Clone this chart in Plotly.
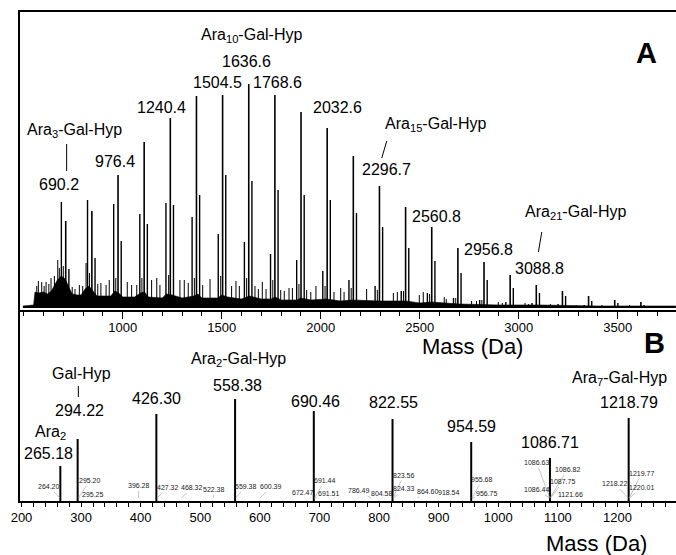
import plotly.graph_objects as go
from plotly.subplots import make_subplots

# ---------------- Panel A : full MALDI spectrum ----------------
# main series (M), sodium adducts (M+22) and potassium adducts (M+38)
A_M_MASS = [690.2, 822.3, 954.4, 1086.4, 1218.4, 1350.5, 1482.5, 1614.6, 1746.6, 1878.6,
            2010.6, 2142.7, 2274.7, 2406.7, 2538.8, 2670.8, 2802.8, 2934.8, 3066.8, 3198.9,
            3330.9, 3462.9, 3595.0]
A_M_INT = [106, 108, 104, 94, 105, 91, 74, 66, 54, 48,
           37, 28, 22, 17, 15, 10, 8, 6, 5, 4,
           3, 2, 2]
A_NA_MASS = [712.2, 844.3, 976.4, 1108.4, 1240.4, 1372.5, 1504.5, 1636.6, 1768.6, 1900.6,
             2032.6, 2164.7, 2296.7, 2428.7, 2560.8, 2692.8, 2824.8, 2956.8, 3088.8, 3220.9,
             3352.9, 3484.9, 3617.0]
A_NA_INT = [87, 97, 133, 166, 190, 212, 213, 224, 213, 196,
            180, 152, 122, 101, 81, 60, 46, 33, 23, 17,
            12, 8, 6]
A_K_MASS = [728.2, 860.3, 992.4, 1124.4, 1256.4, 1388.5, 1520.5, 1652.6, 1784.6, 1916.6,
            2048.6, 2180.7, 2312.7, 2444.7, 2576.8, 2708.8, 2840.8, 2972.8, 3104.8, 3236.9,
            3368.9, 3500.9, 3633.0]
A_K_INT = [39, 50, 67, 84, 103, 113, 133, 127, 118, 113,
           108, 95, 81, 60, 47, 35, 28, 20, 15, 12,
           7, 5, 3]
A_MINOR_MASS = [566, 574, 591, 603, 613, 627, 638, 655, 672, 680, 700, 745, 759, 781, 798,
                815, 832, 874, 890, 916, 932, 965, 1023, 1045, 1071, 1097, 1146, 1172, 1188,
                1232, 1289, 1311, 1331, 1362, 1404, 1441, 1495, 1550, 1572, 1589, 1626,
                1668, 1685, 1705, 1724, 1758, 1798, 1816, 1840, 1857, 1890, 1929, 1950,
                1976, 2022, 2067, 2101, 2118, 2154, 2232, 2286, 2367, 2387, 2418, 2498,
                2518, 2550, 2624, 2634, 2682, 2762, 2787, 2814, 2897, 2917, 3032, 3050,
                3160, 3290, 3420, 3560, 3700]
A_MINOR_INT = [22, 27, 26, 22, 26, 24, 30, 32, 48, 40, 42, 21, 19, 23, 22,
               45, 35, 24, 25, 23, 28, 30, 26, 23, 23, 30, 28, 30, 23,
               33, 28, 28, 25, 30, 23, 29, 32, 22, 27, 22, 30,
               22, 19, 26, 19, 28, 18, 17, 20, 20, 24, 18, 16,
               22, 22, 16, 20, 16, 20, 19, 18, 15, 16, 17, 13,
               16, 14, 11, 9, 10, 7, 7, 8, 6, 5, 5, 4,
               4, 3, 3, 3, 2]
# envelope of the dense baseline noise
A_BAND_MASS = [496, 550, 557, 575, 600, 620, 640, 655, 670, 690, 710, 730, 745, 770, 790,
               810, 830, 850, 870, 900, 940, 960, 980, 1000, 1060, 1090, 1110, 1130, 1200,
               1220, 1250, 1300, 1360, 1380, 1400, 1480, 1500, 1530, 1600, 1640, 1700, 1750,
               1770, 1800, 1880, 1900, 1950, 2030, 2100, 2160, 2300, 2430, 2500, 2560, 2700,
               2900, 3100, 3400, 3794]
A_BAND_INT = [2, 3, 16, 15, 16, 14, 17, 22, 28, 32, 29, 20, 14, 13, 13,
              19, 22, 17, 12, 12, 12, 17, 15, 11, 11, 15, 16, 11, 10,
              14, 13, 10, 12, 14, 10, 10, 13, 11, 9, 12, 9, 9,
              11, 8, 8, 10, 8, 9, 7, 8, 7, 7, 5, 6, 4,
              3, 3, 2, 2]
A_TICKS = [1000, 1500, 2000, 2500, 3000, 3500]

A_LABEL_MASS = [690.2, 690.2, 976.4, 1240.4, 1504.5, 1636.6, 1636.6, 1768.6, 2032.6,
                2296.7, 2296.7, 2560.8, 2956.8, 3088.8, 3088.8]
A_LABEL_TEXT = ["690.2", "Ara<sub>3</sub>-Gal-Hyp", "976.4", "1240.4", "1504.5", "1636.6",
                "Ara<sub>10</sub>-Gal-Hyp", "1768.6", "2032.6", "2296.7",
                "Ara<sub>15</sub>-Gal-Hyp", "2560.8", "2956.8", "3088.8",
                "Ara<sub>21</sub>-Gal-Hyp"]

# ---------------- Panel B : low mass region ----------------
B_MASS = [265.18, 294.22, 426.30, 558.38, 690.46, 822.55, 954.59, 1086.71, 1218.79]
B_INT = [35, 62, 87, 102, 90, 82, 59, 43, 83]
B_LABEL_MASS = [265.18, 265.18, 294.22, 294.22, 426.30, 558.38, 558.38, 690.46, 822.55,
                954.59, 1086.71, 1218.79, 1218.79]
B_LABEL_TEXT = ["265.18", "Ara<sub>2</sub>", "294.22", "Gal-Hyp", "426.30", "558.38",
                "Ara<sub>2</sub>-Gal-Hyp", "690.46", "822.55", "954.59", "1086.71",
                "1218.79", "Ara<sub>7</sub>-Gal-Hyp"]
B_MINOR_MASS = [264.20, 295.20, 295.25, 396.28, 427.32, 468.32, 522.38, 559.38, 600.39,
                672.47, 691.44, 691.51, 786.49, 804.58, 823.56, 824.33, 864.60, 918.54,
                955.68, 956.75, 1086.63, 1086.82, 1087.75, 1086.44, 1121.66, 1218.22,
                1219.77, 1220.01]
B_MINOR_TEXT = ["%.2f" % m for m in B_MINOR_MASS]
B_TICKS = [200, 300, 400, 500, 600, 700, 800, 900, 1000, 1100, 1200]

# ---------------- layout-only offsets (pixels) ----------------
A_LABEL_OFF = [(-2, 18), (13, 72), (-3, 14), (-9, 11), (-5, 13), (-2, 23), (3, 49), (3, 13),
               (10, 21), (7, 17), (56, 62), (5, 11), (-22, 26), (3, 17), (39, 73)]
B_LABEL_OFF = [(-12, 12), (-10, 33), (2, 28), (4, 65), (0, 15), (2, 13), (3, 39), (2, 9),
               (1, 16), (0, 15), (0, 15), (0, 15), (-9, 39)]
B_MINOR_OFF = [(-10.5, -11), (11.5, -17), (14.8, -3), (0.2, -12), (10.7, -10), (10.6, -10),
               (0.1, -8), (10, -11), (10.9, -11), (-0.4, -5), (10.3, -17), (14.6, -4),
               (-11.7, -7), (-0.1, -4), (10.4, -22.5), (10.1, -9), (10.7, -6), (-0.7, -5),
               (10.4, -18), (14.8, -4), (-13.2, -35), (17, -28), (12.1, -16), (-13.1, -8),
               (-0.5, -3), (-13.4, -14), (12, -24), (11.8, -10)]

FONT = "Liberation Sans, Arial, sans-serif"


def sticks(ms, hs):
    xs, ys = [], []
    for m, h in zip(ms, hs):
        xs += [m, m, None]
        ys += [0, h, None]
    return xs, ys


a_lookup = {}
for ms, hs in [(A_M_MASS, A_M_INT), (A_NA_MASS, A_NA_INT), (A_K_MASS, A_K_INT)]:
    for m, h in zip(ms, hs):
        a_lookup[m] = h
b_lookup = dict(zip(B_MASS, B_INT))

fig = make_subplots(rows=2, cols=1, row_heights=[0.6094, 0.3906], vertical_spacing=0)

fig.add_trace(go.Scatter(x=A_BAND_MASS, y=A_BAND_INT, mode="lines", fill="tozeroy",
                         fillcolor="black", line=dict(color="black", width=0.6),
                         hoverinfo="skip"), row=1, col=1)
for ms, hs, w in [(A_MINOR_MASS, A_MINOR_INT, 1.0), (A_K_MASS, A_K_INT, 1.4),
                  (A_M_MASS, A_M_INT, 1.4), (A_NA_MASS, A_NA_INT, 1.6)]:
    xs, ys = sticks(ms, hs)
    fig.add_trace(go.Scatter(x=xs, y=ys, mode="lines", line=dict(color="black", width=w),
                             hoverinfo="skip"), row=1, col=1)

xs, ys = sticks(B_MASS, B_INT)
fig.add_trace(go.Scatter(x=xs, y=ys, mode="lines", line=dict(color="black", width=2),
                         hoverinfo="skip"), row=2, col=1)

ann = []
for m, t, (dx, dy) in zip(A_LABEL_MASS, A_LABEL_TEXT, A_LABEL_OFF):
    ann.append(dict(x=m, y=a_lookup[m], xref="x", yref="y", text=t, showarrow=False,
                    xanchor="center", yanchor="middle",
                    xshift=dx, yshift=dy, font=dict(size=16, color="black", family=FONT)))
for m, t, (dx, dy) in zip(B_LABEL_MASS, B_LABEL_TEXT, B_LABEL_OFF):
    ann.append(dict(x=m, y=b_lookup[m], xref="x2", yref="y2", text=t, showarrow=False,
                    xanchor="center", yanchor="middle",
                    xshift=dx, yshift=dy, font=dict(size=16, color="black", family=FONT)))
for m, t, (dx, dy) in zip(B_MINOR_MASS, B_MINOR_TEXT, B_MINOR_OFF):
    ann.append(dict(x=m, y=3, xref="x2", yref="y2", text=t, showarrow=True, arrowhead=0,
                    arrowwidth=0.6, arrowcolor="#9a9a9a", ax=dx, ay=dy, standoff=0,
                    font=dict(size=7, color="#222222", family=FONT)))

ann += [
    dict(x=0.6898, y=0.3155, xref="paper", yref="paper", text="Mass (Da)", showarrow=False,
         xanchor="center", yanchor="middle", font=dict(size=22, color="black", family=FONT)),
    dict(x=0.8791, y=-0.086, xref="paper", yref="paper", text="Mass (Da)", showarrow=False,
         xanchor="center", yanchor="middle", font=dict(size=22, color="black", family=FONT)),
    dict(x=0.9553, y=0.9155, xref="paper", yref="paper", text="<b>A</b>", showarrow=False,
         xanchor="center", yanchor="middle", font=dict(size=29, color="black", family=FONT)),
    dict(x=0.9665, y=0.3231, xref="paper", yref="paper", text="<b>B</b>", showarrow=False,
         xanchor="center", yanchor="middle", font=dict(size=29, color="black", family=FONT)),
]

# leader lines from compound names to peaks
shapes = []
for xref, yref, m, h, x0, y0, x1, y1 in [
        ("x", "y", 690.2, a_lookup[690.2], 5.3, 31, 5.3, 58),
        ("x", "y", 2296.7, a_lookup[2296.7], 2.3, 28, 7.3, 45),
        ("x", "y", 3088.8, a_lookup[3088.8], 2.1, 33, 5.5, 53),
        ("x2", "y2", 294.22, b_lookup[294.22], 0.7, 42, 0.7, 53)]:
    shapes.append(dict(type="line", xref=xref, yref=yref, xsizemode="pixel",
                       ysizemode="pixel", xanchor=m, yanchor=h, x0=x0, x1=x1, y0=y0, y1=y1,
                       line=dict(color="black", width=1)))

fig.update_layout(
    width=676, height=555, margin=dict(l=20, r=0, t=12, b=54, autoexpand=False),
    paper_bgcolor="white", plot_bgcolor="white", showlegend=False,
    annotations=ann, shapes=shapes, font=dict(family=FONT, color="black"),
)
fig.update_xaxes(range=[481.3, 3794.4], tickvals=A_TICKS, ticks="outside", ticklen=7,
                 tickwidth=1, tickcolor="black", showline=True, linecolor="black",
                 linewidth=1.5, mirror=True, showgrid=False, zeroline=False,
                 automargin=False, ticklabelstandoff=-2,
                 tickfont=dict(size=13, family=FONT, color="black"),
                 minor=dict(dtick=100, tick0=0, ticks="outside", ticklen=4,
                            tickcolor="black", showgrid=False),
                 row=1, col=1)
fig.update_xaxes(range=[197.5, 1298.2], tickvals=B_TICKS, ticks="outside", ticklen=4,
                 tickwidth=1, tickcolor="black", showline=True, linecolor="black",
                 linewidth=1.5, showgrid=False, zeroline=False, automargin=False,
                 tickfont=dict(size=13, family=FONT, color="black"),
                 minor=dict(dtick=20, tick0=0, ticks="outside", ticklen=4,
                            tickcolor="black", showgrid=False),
                 row=2, col=1)
fig.update_yaxes(range=[-2, 296], showticklabels=False, ticks="", showline=True,
                 linecolor="black", linewidth=1.5, showgrid=False, zeroline=False,
                 automargin=False, row=1, col=1)
fig.update_yaxes(range=[0, 191], showticklabels=False, ticks="", showline=True,
                 linecolor="black", linewidth=1.5, showgrid=False, zeroline=False,
                 automargin=False, row=2, col=1)

fig.write_html("out.html", config={"displayModeBar": False},
               post_script="document.body.style.margin='0px';"
                           "document.body.style.overflow='hidden';"
                           "document.documentElement.style.overflow='hidden';")
